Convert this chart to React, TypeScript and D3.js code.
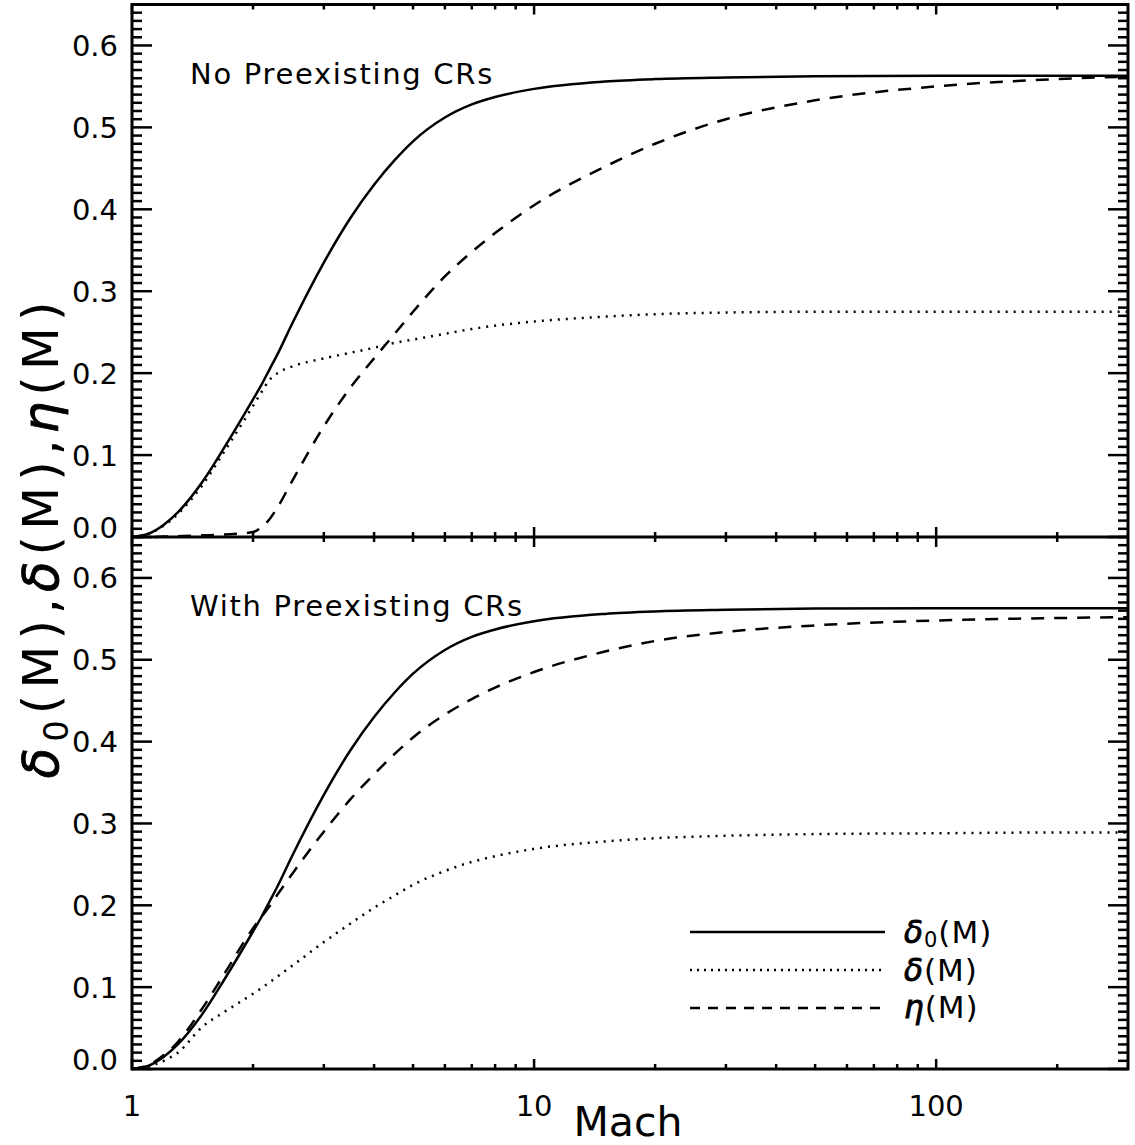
import React from "react";
import * as d3 from "d3";

const mach = [1, 1.1, 1.2, 1.3, 1.5, 1.7, 2.0, 2.1, 2.2, 2.3, 2.5, 3.0, 3.5, 4.0, 4.5, 5.0, 6.0, 7.0, 8.0, 10, 15, 20, 30, 50, 100, 200, 300];

// Top panel: No Preexisting CRs
const delta0Top = [0, 0.004, 0.015, 0.03, 0.068, 0.11, 0.168, 0.186, 0.205, 0.223, 0.26, 0.335, 0.39, 0.43, 0.46, 0.483, 0.512, 0.528, 0.537, 0.547, 0.556, 0.559, 0.561, 0.5625, 0.563, 0.563, 0.563];
const deltaTop = [0, 0.004, 0.014, 0.028, 0.064, 0.105, 0.16, 0.177, 0.192, 0.2, 0.208, 0.218, 0.225, 0.231, 0.237, 0.241, 0.248, 0.254, 0.258, 0.263, 0.269, 0.272, 0.274, 0.275, 0.275, 0.275, 0.275];
const etaTop = [0, 0.0, 0.0005, 0.001, 0.002, 0.003, 0.006, 0.012, 0.022, 0.036, 0.068, 0.135, 0.183, 0.218, 0.248, 0.275, 0.318, 0.348, 0.371, 0.405, 0.452, 0.48, 0.51, 0.533, 0.55, 0.559, 0.562];

// Bottom panel: With Preexisting CRs
const delta0Bot = delta0Top;
const deltaBot = [0, 0.003, 0.01, 0.02, 0.052, 0.07, 0.092, 0.099, 0.106, 0.113, 0.126, 0.155, 0.178, 0.197, 0.212, 0.225, 0.242, 0.253, 0.26, 0.269, 0.278, 0.282, 0.285, 0.287, 0.288, 0.289, 0.289];
const etaBot = [0, 0.005, 0.017, 0.033, 0.075, 0.117, 0.172, 0.186, 0.199, 0.213, 0.238, 0.29, 0.33, 0.36, 0.385, 0.405, 0.433, 0.452, 0.466, 0.485, 0.51, 0.523, 0.534, 0.542, 0.548, 0.551, 0.552];

const yTickValues = [0, 0.1, 0.2, 0.3, 0.4, 0.5, 0.6];
const yTickLabels = ["0.0", "0.1", "0.2", "0.3", "0.4", "0.5", "0.6"];
const xMajorTicks = [1, 10, 100];
const xMajorLabels = ["1", "10", "100"];
const xMinorTicks = [2, 3, 4, 5, 6, 7, 8, 9, 20, 30, 40, 50, 60, 70, 80, 90, 200];

const panelTitles = ["No Preexisting CRs", "With Preexisting CRs"];

const FONT = "DejaVu Sans";
const L = 132, R = 1128, T = 4.5, M = 537, B = 1069;

export default function App() {
  const x = d3.scaleLog().domain([1, 300]).range([L, R]);
  const yTop = d3.scaleLinear().domain([0, 0.65]).range([M, T]);
  const yBot = d3.scaleLinear().domain([0, 0.65]).range([B, M]);

  const mkLine = (y: d3.ScaleLinear<number, number>, vals: number[]) =>
    d3.line<number>().x((_, i) => x(mach[i])).y((v) => y(v)).curve(d3.curveMonotoneX)(vals) || "";

  const minorY = d3.range(0, 66).map((i) => i / 100);

  const panel = (y: d3.ScaleLinear<number, number>, top: number, bot: number, series: number[][], title: string, key: string) => {
    const [s0, s1, s2] = series;
    return (
      <g key={key}>
        <path d={mkLine(y, s0)} fill="none" stroke="#000" strokeWidth={2.5} />
        <path d={mkLine(y, s1)} fill="none" stroke="#000" strokeWidth={2.5} strokeDasharray="2 6" />
        <path d={mkLine(y, s2)} fill="none" stroke="#000" strokeWidth={2.5} strokeDasharray="13 10" />
        {minorY.map((v) => {
          const major = Math.abs(v * 10 - Math.round(v * 10)) < 1e-6;
          const len = major ? 20 : 10;
          const yy = y(v);
          return (
            <g key={"yt" + v}>
              <line x1={L} x2={L + len} y1={yy} y2={yy} stroke="#000" strokeWidth={2.5} />
              <line x1={R} x2={R - len} y1={yy} y2={yy} stroke="#000" strokeWidth={2.5} />
            </g>
          );
        })}
        {yTickValues.map((v, i) => (
          <text key={"yl" + v} x={118} y={y(v) - (v === 0 ? 9 : 0)} dy="0.36em" textAnchor="end" fontFamily={FONT} fontSize={29}>
            {yTickLabels[i]}
          </text>
        ))}
        {xMajorTicks.map((v) => (
          <g key={"xm" + v}>
            <line x1={x(v)} x2={x(v)} y1={bot} y2={bot - 10} stroke="#000" strokeWidth={2.5} />
            <line x1={x(v)} x2={x(v)} y1={top} y2={top + 10} stroke="#000" strokeWidth={2.5} />
          </g>
        ))}
        {xMinorTicks.map((v) => (
          <g key={"xn" + v}>
            <line x1={x(v)} x2={x(v)} y1={bot} y2={bot - 5} stroke="#000" strokeWidth={2.5} />
            <line x1={x(v)} x2={x(v)} y1={top} y2={top + 5} stroke="#000" strokeWidth={2.5} />
          </g>
        ))}
        <text x={190} y={top + 79} fontFamily={FONT} fontSize={29} letterSpacing={1.7}>{title}</text>
      </g>
    );
  };

  const greek = { fontStyle: "italic", stroke: "#000", strokeWidth: 0.9 } as const;

  return (
    <svg width={1135} height={1145} style={{ position: "absolute", left: 0, top: 0, background: "#fff" }}>
      <rect x={0} y={0} width={1135} height={1145} fill="#fff" />
      {panel(yTop, T, M, [delta0Top, deltaTop, etaTop], panelTitles[0], "top")}
      {panel(yBot, M, B, [delta0Bot, deltaBot, etaBot], panelTitles[1], "bot")}
      <rect x={L} y={T} width={R - L} height={B - T} fill="none" stroke="#000" strokeWidth={3} />
      <line x1={L} x2={R} y1={M} y2={M} stroke="#000" strokeWidth={3} />
      {xMajorTicks.map((v, i) => (
        <text key={"xlab" + v} x={x(v)} y={1116} textAnchor="middle" fontFamily={FONT} fontSize={29}>
          {xMajorLabels[i]}
        </text>
      ))}
      <text x={628} y={1136} textAnchor="middle" fontFamily={FONT} fontSize={41}>Mach</text>
      <text transform="translate(58,537) rotate(-90)" textAnchor="middle" fontFamily={FONT} fontSize={50} letterSpacing={6}>
        <tspan {...greek}>δ</tspan>
        <tspan fontSize={34} dy={10}>0</tspan>
        <tspan dy={-10}>(M),</tspan>
        <tspan {...greek}>δ</tspan>
        <tspan>(M),</tspan>
        <tspan {...greek}>η</tspan>
        <tspan>(M)</tspan>
      </text>
      <line x1={690} x2={885} y1={932} y2={932} stroke="#000" strokeWidth={2.5} />
      <line x1={690} x2={885} y1={970} y2={970} stroke="#000" strokeWidth={2.5} strokeDasharray="2 5" />
      <line x1={690} x2={885} y1={1008} y2={1008} stroke="#000" strokeWidth={2.5} strokeDasharray="10 8" />
      <text x={904} y={943} fontFamily={FONT} fontSize={31} letterSpacing={1}>
        <tspan {...greek}>δ</tspan>
        <tspan fontSize={21} dy={4}>0</tspan>
        <tspan dy={-4}>(M)</tspan>
      </text>
      <text x={904} y={981} fontFamily={FONT} fontSize={31} letterSpacing={1}>
        <tspan {...greek}>δ</tspan>
        <tspan>(M)</tspan>
      </text>
      <text x={904} y={1018} fontFamily={FONT} fontSize={31} letterSpacing={1}>
        <tspan {...greek}>η</tspan>
        <tspan>(M)</tspan>
      </text>
    </svg>
  );
}
